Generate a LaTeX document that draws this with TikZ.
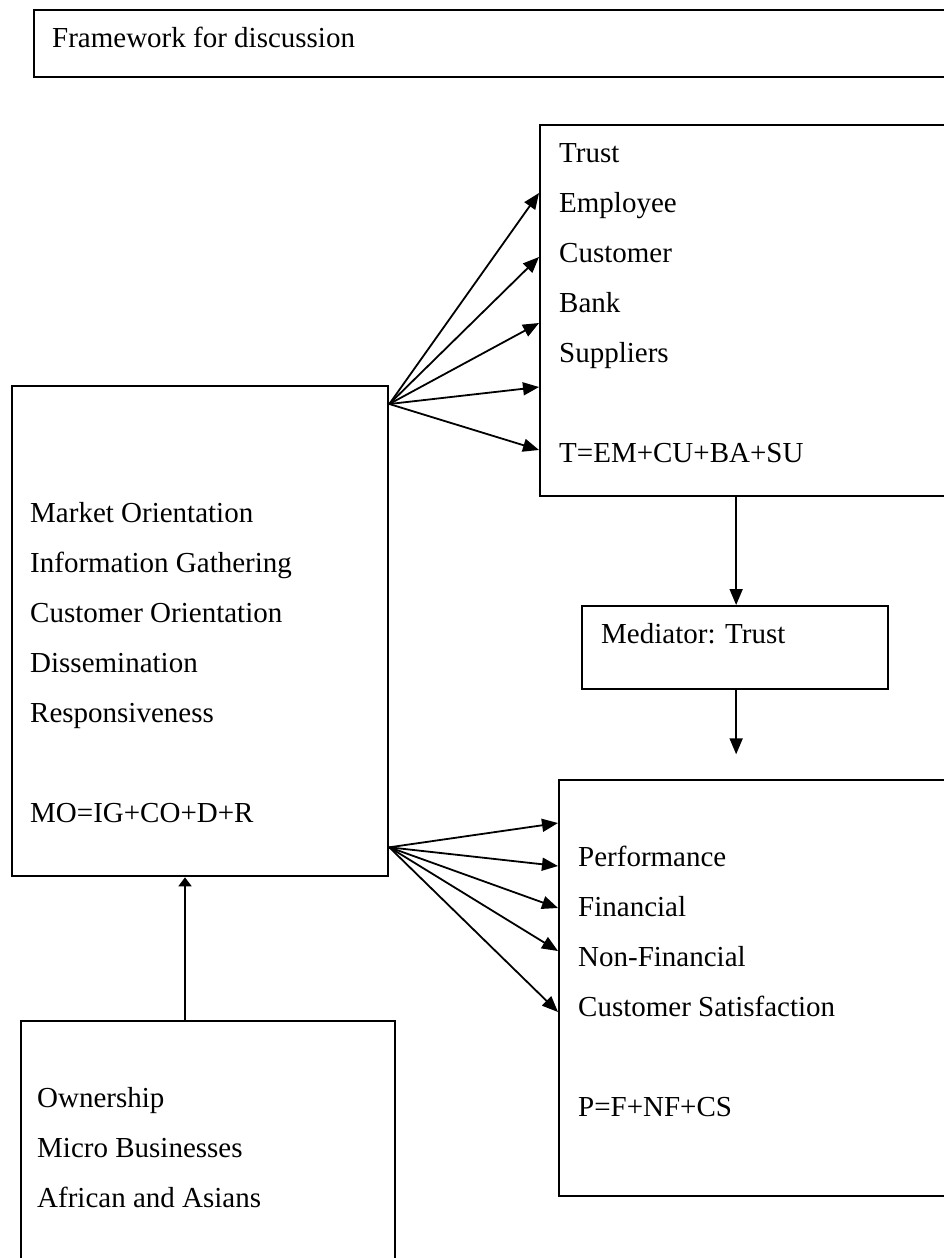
\documentclass[tikz,border=0pt]{standalone}
\usepackage{fontspec}
\setmainfont{Liberation Serif}
\usetikzlibrary{arrows.meta,calc}
\begin{document}
\begin{tikzpicture}[x=1pt,y=-1pt,
  box/.style={draw,line width=2.3pt,rectangle,inner sep=0pt,anchor=north west},
  txt/.style={anchor=base west,inner sep=0pt,font=\fontsize{29}{35}\selectfont},
  link/.style={line width=1.8pt,-{Triangle[length=16pt,width=13pt]}},
  shortlink/.style={line width=1.8pt,-{Triangle[length=9pt,width=13pt]}},
]
\useasboundingbox (0,0) rectangle (944,1258);
\clip (0,0) rectangle (944,1258);

% boxes (right-hand ones run past the page edge)
\node[box,minimum width=940pt,minimum height=67pt] (title) at (33,9) {};
\node[box,minimum width=460pt,minimum height=371pt] (trust) at (539,124) {};
\node[box,minimum width=306pt,minimum height=83pt] (med) at (581,605) {};
\node[box,minimum width=440pt,minimum height=416pt] (perf) at (558,779) {};
\node[box,minimum width=376pt,minimum height=490pt] (mo) at (11,385) {};
\node[box,minimum width=374pt,minimum height=300pt] (own) at (20,1020) {};

% texts
\node[txt] (t0) at (52,47) {Framework for discussion};

\node[txt] (t1) at (559,162) {Trust};
\node[txt] (t2) at (559,212) {Employee};
\node[txt] (t3) at (559,262) {Customer};
\node[txt] (t4) at (559,312) {Bank};
\node[txt] (t5) at (559,362) {Suppliers};
\node[txt] (t6) at (559,462) {T=EM+CU+BA+SU};

\node[txt] (m1) at (601,643) {Mediator: Trust};

\node[txt] (o1) at (30,522) {Market Orientation};
\node[txt] (o2) at (30,572) {Information Gathering};
\node[txt] (o3) at (30,622) {Customer Orientation};
\node[txt] (o4) at (30,672) {Dissemination};
\node[txt] (o5) at (30,722) {Responsiveness};
\node[txt] (o6) at (30,822) {MO=IG+CO+D+R};

\node[txt] (p1) at (578,866) {Performance};
\node[txt] (p2) at (578,916) {Financial};
\node[txt] (p3) at (578,966) {Non-Financial};
\node[txt] (p4) at (578,1016) {Customer Satisfaction};
\node[txt] (p5) at (578,1116) {P=F+NF+CS};

\node[txt] (w1) at (37,1107) {Ownership};
\node[txt] (w2) at (37,1157) {Micro Businesses};
\node[txt] (w3) at (37,1207) {African and Asians};

% fan from market orientation to trust
\coordinate (fanA) at ($(mo.north east)+(0,19)$);
\foreach \d in {69,133,199,263,326}
  \draw[link] (fanA) -- ($(trust.north west)+(0,\d)$);

% fan from market orientation to performance
\coordinate (fanB) at ($(mo.south east)+(0,-30)$);
\foreach \d in {44,87,129,172,233}
  \draw[link] (fanB) -- ($(perf.north west)+(0,\d)$);

% vertical links
\coordinate (tb) at ($(trust.south -| med.north)+(1,0)$);
\draw[link] (tb) -- (tb |- med.north);
\coordinate (medout) at ($(med.south)+(1,64)$);
\draw[link] ($(med.south)+(1,0)$) -- (medout);
\draw[shortlink] ($(own.north west)+(165,0)$) -- ($(mo.south west)+(174,0)$);
\end{tikzpicture}
\end{document}
